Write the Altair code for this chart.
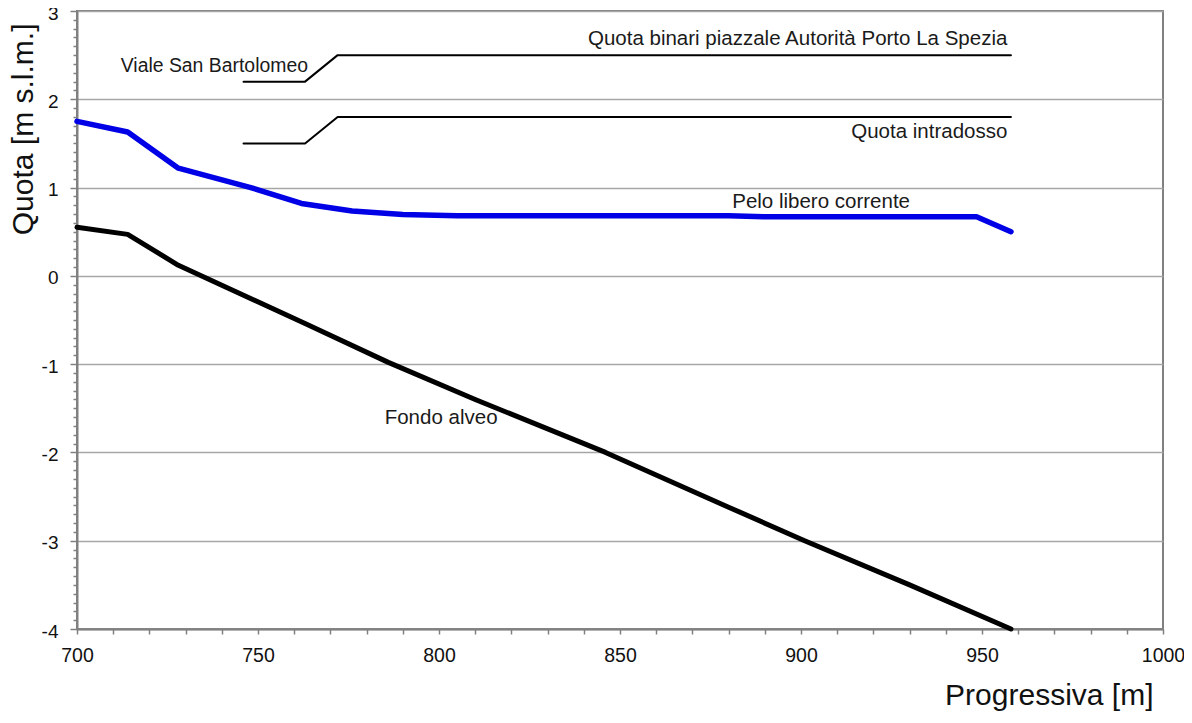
import altair as alt
import pandas as pd

# Fondo alveo (riverbed)
fondo_x = [700, 714, 728, 763, 786, 810, 846, 880, 901, 930, 958]
fondo_y = [0.55, 0.47, 0.12, -0.54, -0.98, -1.4, -2.0, -2.62, -3.0, -3.5, -4.0]
# Pelo libero corrente (water surface)
pelo_x = [700, 714, 728, 748, 762, 776, 790, 805, 880, 890, 948.5, 958]
pelo_y = [1.75, 1.63, 1.22, 1.0, 0.82, 0.735, 0.695, 0.68, 0.68, 0.67, 0.67, 0.50]
# Quota binari / Viale San Bartolomeo
binari_x = [746, 763, 772, 958]
binari_y = [2.2, 2.2, 2.5, 2.5]
# Quota intradosso
intra_x = [746, 763, 772, 958]
intra_y = [1.5, 1.5, 1.8, 1.8]

# annotations
lab_right = ["Quota binari piazzale Autorità Porto La Spezia", "Quota intradosso"]
lab_right_x = [957, 957]
lab_right_y = [2.62, 1.56]
lab_left = ["Pelo libero corrente", "Fondo alveo"]
lab_left_x = [881, 785]
lab_left_y = [0.77, -1.68]
lab_viale = ["Viale San Bartolomeo"]
lab_viale_x = [763.8]
lab_viale_y = [2.31]

x_ticks = list(range(700, 1001, 10))
y_ticks = [round(-4 + i * 0.1, 1) for i in range(71)]

FONT = "Liberation Sans"
GRAY = "#808080"
is_int = "abs(datum.value - round(datum.value)) < 0.001"

xenc = alt.X(
    "x:Q",
    scale=alt.Scale(domain=[700, 1000], nice=False, zero=False),
    axis=alt.Axis(
        values=x_ticks,
        labelExpr="datum.value % 50 === 0 ? '' + datum.value : ''",
        grid=False,
        tickSize=5,
        tickColor=GRAY,
        tickWidth=1.5,
        domainColor=GRAY,
        domainWidth=2,
        labelFont=FONT,
        labelFontSize=19.5,
        labelColor="#111111",
        labelPadding=12,
        labelFlush=False,
        labelOverlap=False,
        title="Progressiva [m]",
        titleFont=FONT,
        titleFontSize=30,
        titleFontWeight="normal",
        titleColor="#111111",
        titleX=1076,
        titleY=75,
        titleAlign="right",
        titleBaseline="alphabetic",
    ),
)
yenc = alt.Y(
    "y:Q",
    scale=alt.Scale(domain=[-4, 3], nice=False, zero=False),
    axis=alt.Axis(
        values=y_ticks,
        labelExpr=is_int + " ? '' + round(datum.value) : ''",
        grid=True,
        gridColor="#a6a6a6",
        gridWidth=1.5,
        gridOpacity={"condition": {"test": is_int, "value": 1}, "value": 0},
        tickSize={"condition": {"test": is_int, "value": 7}, "value": 4},
        tickColor=GRAY,
        tickWidth=1.5,
        domainColor=GRAY,
        domainWidth=2,
        labelFont=FONT,
        labelFontSize=19,
        labelColor="#111111",
        labelPadding=12,
        labelOffset=2,
        labelOverlap=False,
        labelFlush=False,
        title="Quota [m s.l.m.]",
        titleFont=FONT,
        titleFontSize=30,
        titleFontWeight="normal",
        titleColor="#111111",
        titleAngle=270,
        titleX=-45,
        titleY=12,
        titleAlign="right",
        titleBaseline="alphabetic",
    ),
)

def line(xs, ys, color, width):
    df = pd.DataFrame({"x": xs, "y": ys})
    return alt.Chart(df).mark_line(color=color, strokeWidth=width, strokeJoin="round", strokeCap="round").encode(x=xenc, y=yenc)

def texts(labels, xs, ys, align, size):
    df = pd.DataFrame({"t": labels, "x": xs, "y": ys})
    return alt.Chart(df).mark_text(align=align, baseline="alphabetic", font=FONT, fontSize=size, color="#1a1a1a").encode(
        x=xenc, y=yenc, text="t:N"
    )

chart = alt.layer(
    line(binari_x, binari_y, "#000000", 2),
    line(intra_x, intra_y, "#000000", 2),
    line(fondo_x, fondo_y, "#000000", 5),
    line(pelo_x, pelo_y, "#0000e6", 5.5),
    texts(lab_right, lab_right_x, lab_right_y, "right", 20.5),
    texts(lab_left, lab_left_x, lab_left_y, "left", 20.5),
    texts(lab_viale, lab_viale_x, lab_viale_y, "right", 19.4),
).properties(
    width=1086,
    height=618,
    autosize=alt.AutoSizeParams(type="none"),
    padding={"left": 69, "top": 3, "right": 21, "bottom": 82},
    background="white",
).configure_view(stroke=GRAY, strokeWidth=2)

chart.save("out.html", embed_options={"renderer": "svg", "actions": False})
